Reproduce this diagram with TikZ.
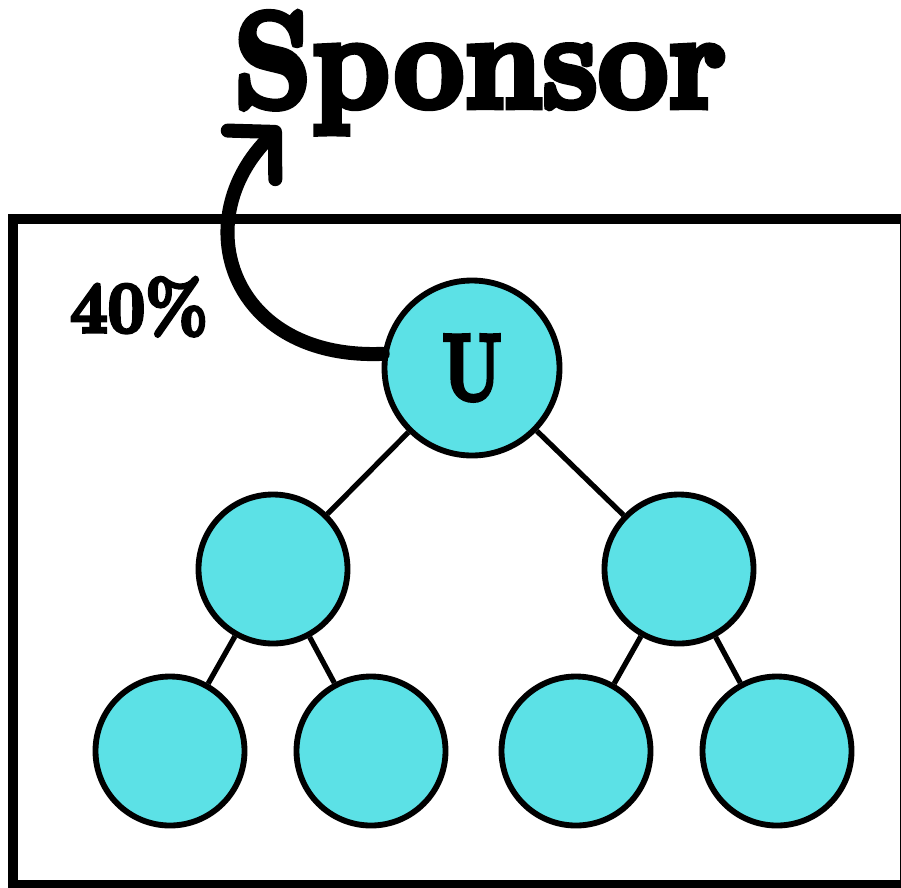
\documentclass[tikz,border=0pt]{standalone}
\usepackage{fontspec}
\usetikzlibrary{arrows.meta}
\newfontfamily\heavy{lmroman10-bold.otf}[FakeBold=5]
\definecolor{nodecyan}{HTML}{5CE1E6}
\begin{document}
\begin{tikzpicture}[x=0.03cm,y=-0.03cm,
    dot/.style={circle,draw,line width=5pt,fill=nodecyan,inner sep=0pt,minimum size=4.47cm},
    link/.style={line width=4.5pt}]
    \useasboundingbox (0,0) rectangle (901,887);
    % khung
    \draw[line width=7.7pt] (13,219) rectangle (904,884);
    % cay
    \node[dot,minimum size=5.25cm,font=\heavy\fontsize{80}{80}\selectfont] (U) at (472,368) {\scalebox{0.72}[1]{U}};
    \path
    foreach \n/\x in {L/273,R/679} {(\x,569) node[dot] (\n) {}}
    foreach \n/\x in {LL/170,LR/371,RL/576,RR/777} {(\x,751) node[dot] (\n) {}}
    ;
    \foreach \a/\b in {U/L,U/R,L/LL,L/LR,R/RL,R/RR} \draw[link] (\a)--(\b);
    % nhan
    \node[font=\heavy\fontsize{116}{116}\selectfont,anchor=base,inner sep=0pt] (sponsor) at (480,107) {\scalebox{0.9}[1]{Sponsor}};
    \node[font=\heavy\fontsize{62}{62}\selectfont,anchor=base,inner sep=0pt] (rate) at (139,332) {\scalebox{0.9}[1]{40\%}};
    % mui ten
    \coordinate (tip) at (280,127);
    \draw[line width=12pt,line cap=round,-{Straight Barb[length=28pt,width=58pt,round]}]
    (U.171) .. controls (230,360) and (185,220) .. (tip);
\end{tikzpicture}
\end{document}
